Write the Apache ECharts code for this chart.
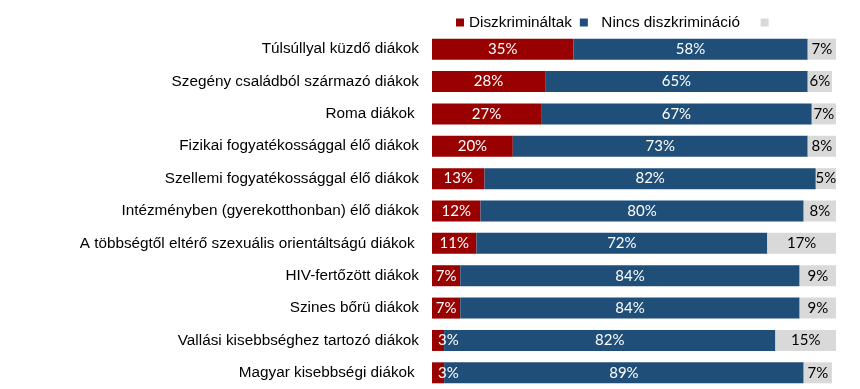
<!DOCTYPE html>
<html><head><meta charset="utf-8">
<script src="https://cdn.jsdelivr.net/npm/echarts@6/dist/echarts.min.js"></script>
<style>html,body{margin:0;padding:0;background:#fff}#c{width:860px;height:389px}</style>
</head><body><div id="c"></div>
<script>
const categories = [
  'Túlsúllyal küzdő diákok',
  'Szegény családból származó diákok',
  'Roma diákok ',
  'Fizikai fogyatékossággal élő diákok',
  'Szellemi fogyatékossággal élő diákok',
  'Intézményben (gyerekotthonban) élő diákok',
  'A többségtől eltérő szexuális orientáltságú diákok ',
  'HIV-fertőzött diákok',
  'Szines bőrü diákok',
  'Vallási kisebbséghez tartozó diákok',
  'Magyar kisebbségi diákok '
];
const diszkriminaltak = [35, 28, 27, 20, 13, 12, 11, 7, 7, 3, 3];
const nincs = [58, 65, 67, 73, 82, 80, 72, 84, 84, 82, 89];
const egyeb = [7, 6, 7, 8, 5, 8, 17, 9, 9, 15, 7];
const seriesNames = ['Diszkrimináltak', '  Nincs diszkrimináció   ', ' '];

const chart = echarts.init(document.getElementById('c'));
const lblFont = 'Lato, "Open Sans", sans-serif';
const txtFont = '"Liberation Sans", Arial, sans-serif';
function mk(name, data, color, labelColor, smallLeft) {
  return {
    name: name, type: 'bar', stack: 'a', barWidth: 21,
    data: data.map(v => (smallLeft && v < 5)
      ? { value: v, label: { position: 'insideLeft', distance: 6 } }
      : v),
    itemStyle: { color: color },
    label: { show: true, position: 'inside', formatter: '{c}%', color: labelColor,
      fontFamily: lblFont, fontSize: 15 },
    emphasis: { disabled: true }
  };
}
chart.setOption({
  animation: false,
  legend: {
    left: 451, top: 10, itemWidth: 8, itemHeight: 8, itemGap: 8,
    textStyle: { fontFamily: txtFont, fontSize: 15.3, color: '#000' },
    icon: 'rect',
    data: seriesNames
  },
  grid: { left: 432, right: 24, top: 33, height: 356, containLabel: false },
  xAxis: { type: 'value', min: 0, max: 100, show: false },
  yAxis: {
    type: 'category', data: categories, inverse: true,
    axisLine: { show: false }, axisTick: { show: false },
    axisLabel: { margin: 13, color: '#000', fontSize: 15.3, fontFamily: txtFont }
  },
  series: [
    mk(seriesNames[0], diszkriminaltak, '#990000', '#fff', true),
    mk(seriesNames[1], nincs, '#1F4E79', '#fff', false),
    mk(seriesNames[2], egyeb, '#D9D9D9', '#000', false)
  ]
});
</script></body></html>
